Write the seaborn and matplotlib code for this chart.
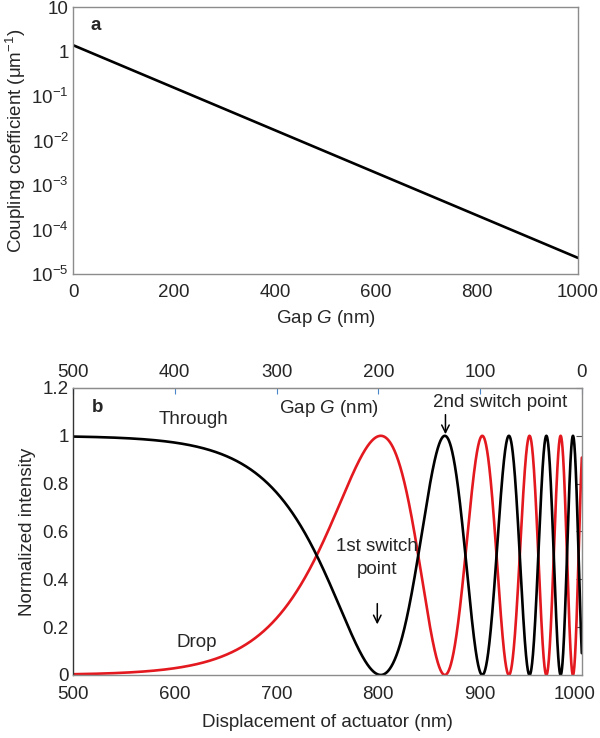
import numpy as np
import pandas as pd
import matplotlib
matplotlib.use('Agg')
import matplotlib.pyplot as plt
import matplotlib.transforms as mtransforms
import seaborn as sns

gap_nm = [0, 1000]
kappa_um = [1.39, 2.3e-5]

# panel b: coupling length of the ring/bus section (um), read from the 1st switch point at ~804 nm
coupling_len_um = 9.95
disp_min, disp_max = 500, 1000

a_yticks = [1e-5, 1e-4, 1e-3, 1e-2, 1e-1, 1, 10]
a_ylabels = ['10$^{-5}$', '10$^{-4}$', '10$^{-3}$', '10$^{-2}$', '10$^{-1}$', '1', '10']
b_yticks = [0, 0.2, 0.4, 0.6, 0.8, 1, 1.2]
b_ylabels = ['0', '0.2', '0.4', '0.6', '0.8', '1', '1.2']
gap_ticks = [500, 400, 300, 200, 100, 0]

red = '#e3191f'
spine_col = '#8c8c8c'
fs = 13.5

sns.set_style('white')
plt.rcParams['font.family'] = ['Liberation Sans', 'DejaVu Sans']
plt.rcParams['mathtext.fontset'] = 'custom'
plt.rcParams['mathtext.rm'] = 'Liberation Sans'
plt.rcParams['mathtext.it'] = 'Liberation Sans:italic'
plt.rcParams['mathtext.bf'] = 'Liberation Sans:bold'
plt.rcParams['mathtext.default'] = 'regular'
plt.rcParams['font.size'] = fs

fig = plt.figure(figsize=(6, 7.38), dpi=100)

# ---------- panel a ----------
ax1 = fig.add_axes([0.1217, 0.6287, 0.8417, 0.3618])
dfa = pd.DataFrame({'gap': gap_nm, 'kappa': kappa_um})
sns.lineplot(data=dfa, x='gap', y='kappa', color='black', lw=1.9, ax=ax1)
ax1.set_yscale('log')
ax1.set_xlim(0, 1000)
ax1.set_ylim(1e-5, 10)
ax1.set_yticks(a_yticks)
ax1.set_yticklabels(a_ylabels)
ax1.minorticks_off()
ax1.set_xticks(range(0, 1001, 200))
ax1.set_xticks(range(100, 1000, 200), minor=True)
ax1.tick_params(axis='both', which='both', direction='in', length=4, color=spine_col,
                top=False, right=False, labelsize=fs, pad=7)
ax1.tick_params(axis='y', pad=3)
ax1.set_xlabel('Gap $\\it{G}$ (nm)', fontsize=fs, labelpad=5)
ax1.set_ylabel('Coupling coefficient (μm$^{-1}$)', fontsize=fs, labelpad=2)
for s in ax1.spines.values():
    s.set_color(spine_col)
    s.set_linewidth(1)
ax1.text(44, 3.9, 'a', fontweight='bold', fontsize=fs, ha='center', va='center')

# ---------- panel b ----------
ax2 = fig.add_axes([0.1217, 0.0854, 0.848, 0.3889])
disp = np.linspace(disp_min, disp_max, 3000)
gap_b = disp_max - disp
log_k = np.interp(gap_b, gap_nm, np.log(kappa_um))
phase = np.exp(log_k) * coupling_len_um
dfb = pd.DataFrame({'disp': disp,
                    'Through': np.cos(phase) ** 2,
                    'Drop': np.sin(phase) ** 2})
sns.lineplot(data=dfb, x='disp', y='Drop', color=red, lw=1.9, ax=ax2)
sns.lineplot(data=dfb, x='disp', y='Through', color='black', lw=1.9, ax=ax2)
ax2.set_xlim(disp_min, disp_max)
ax2.set_ylim(0, 1.2)
ax2.set_yticks(b_yticks)
ax2.set_yticklabels(b_ylabels)
ax2.set_xticks(range(500, 1001, 100))
ax2.tick_params(axis='both', direction='in', length=4, color=spine_col,
                labelsize=fs, pad=3)
ax2.tick_params(axis='x', pad=8)
ax2.tick_params(axis='y', right=True, color='#555555')
ax2.set_xlabel('Displacement of actuator (nm)', fontsize=fs, labelpad=8)
ax2.set_ylabel('Normalized intensity', fontsize=fs, labelpad=5)
for s in ax2.spines.values():
    s.set_color(spine_col)
    s.set_linewidth(1)
ax2.spines['left'].set_color('#333333')

# nudge the last bottom label so it stays inside the figure
last = ax2.get_xticklabels()[-1]
last.set_transform(last.get_transform() +
                   mtransforms.ScaledTranslation(-5 / 72, 0, fig.dpi_scale_trans))

top = ax2.secondary_xaxis('top', functions=(lambda d: 1000 - d, lambda g: 1000 - g))
top.set_xticks(gap_ticks)
top.tick_params(direction='in', length=4, color='#4a86c8', labelsize=fs, pad=5)
top.spines['top'].set_color(spine_col)

ax2.text(524, 1.117, 'b', fontweight='bold', fontsize=fs, ha='center', va='center')
ax2.text(618, 1.067, 'Through', fontsize=fs, ha='center', va='center')
ax2.text(622, 0.134, 'Drop', fontsize=fs, ha='center', va='center')
ax2.text(751, 1.113, 'Gap $\\it{G}$ (nm)', fontsize=fs, ha='center', va='center')
ax2.text(920, 1.138, '2nd switch point', fontsize=fs, ha='center', va='center')
ax2.annotate('', xy=(866, 0.995), xytext=(866, 1.1),
             arrowprops=dict(arrowstyle='->', color='black', lw=1.1))
ax2.text(799, 0.536, '1st switch', fontsize=fs, ha='center', va='center')
ax2.text(799, 0.44, 'point', fontsize=fs, ha='center', va='center')
ax2.annotate('', xy=(799, 0.2), xytext=(799, 0.31),
             arrowprops=dict(arrowstyle='->', color='black', lw=1.1))

fig.savefig('out.png', dpi=100)
